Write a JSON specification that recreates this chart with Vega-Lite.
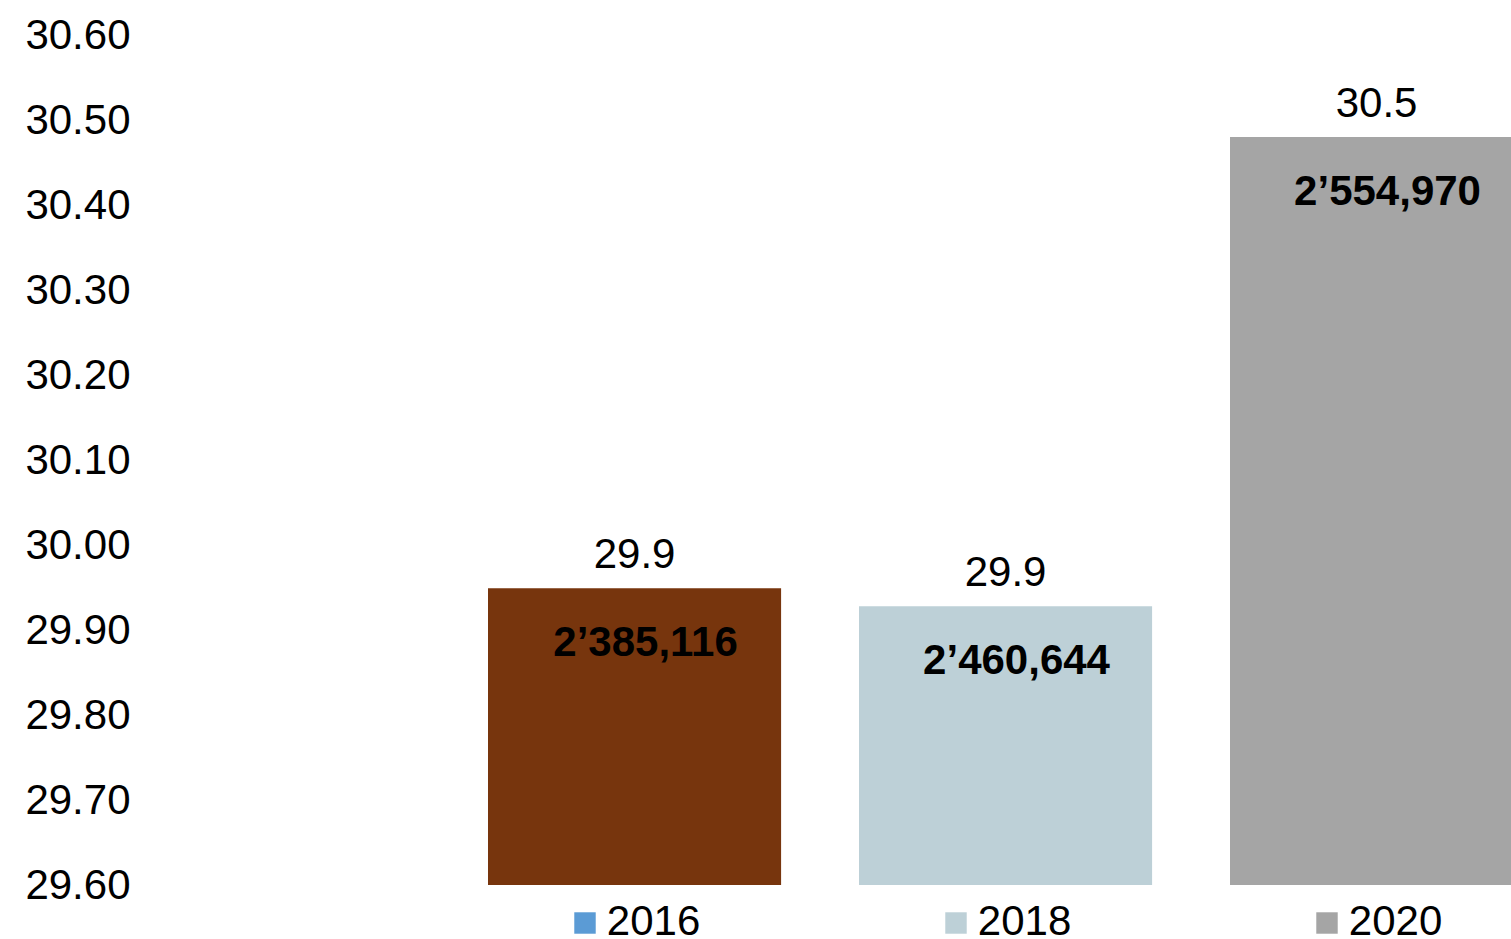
{
  "$schema": "https://vega.github.io/schema/vega-lite/v6.json",
  "width": 1361,
  "height": 850,
  "autosize": {"type": "none"},
  "padding": {"left": 150, "top": 35, "right": 0, "bottom": 54},
  "background": "white",
  "config": {
    "view": {"stroke": null},
    "font": "Liberation Sans",
    "text": {"font": "Liberation Sans"}
  },
  "data": {
    "values": [
      {"year": "2016", "value": 29.949, "label": "2’385,116"},
      {"year": "2018", "value": 29.928, "label": "2’460,644"},
      {"year": "2020", "value": 30.48, "label": "2’554,970"}
    ]
  },
  "encoding": {
    "x": {
      "field": "year",
      "type": "nominal",
      "scale": {"domain": ["2016", "2018", "2020"], "range": [338, 1373.09], "paddingInner": 0.21, "paddingOuter": 0},
      "axis": {
        "title": null,
        "orient": "bottom",
        "domain": false,
        "ticks": false,
        "tickSize": 0,
        "grid": false,
        "labelAngle": 0,
        "labelFontSize": 42,
        "labelFont": "Liberation Sans",
        "labelColor": "#000000",
        "labelPadding": 16,
        "labelOffset": 19
      }
    },
    "y": {
      "field": "value",
      "type": "quantitative",
      "scale": {"domain": [29.6, 30.6], "nice": false, "zero": false},
      "axis": {
        "values": [29.6, 29.7, 29.8, 29.9, 30.0, 30.1, 30.2, 30.3, 30.4, 30.5, 30.6],
        "format": ".2f",
        "title": null,
        "domain": false,
        "ticks": false,
        "tickSize": 0,
        "grid": false,
        "labelFontSize": 42,
        "labelColor": "#000000",
        "labelPadding": 20,
        "labelFont": "Liberation Sans"
      }
    }
  },
  "layer": [
    {
      "mark": {"type": "bar", "clip": true},
      "encoding": {
        "y2": {"datum": 29.6},
        "fill": {
          "field": "year",
          "type": "nominal",
          "scale": {"domain": ["2016", "2018", "2020"], "range": ["#77350D", "#BDD0D7", "#A5A5A5"]},
          "legend": null
        }
      }
    },
    {
      "mark": {"type": "point", "shape": "square", "filled": true, "size": 460, "opacity": 1, "strokeWidth": 0},
      "encoding": {
        "y": {"datum": 29.6},
        "xOffset": {"value": 97},
        "yOffset": {"value": 38},
        "color": {
          "field": "year",
          "type": "nominal",
          "scale": {"domain": ["2016", "2018", "2020"], "range": ["#5B9BD5", "#BDD0D7", "#A5A5A5"]},
          "legend": null
        }
      }
    },
    {
      "mark": {"type": "text", "dy": -33, "fontSize": 42, "color": "#000000", "baseline": "middle"},
      "encoding": {
        "text": {"field": "value", "type": "quantitative", "format": ".1f"}
      }
    },
    {
      "mark": {"type": "text", "dy": 55, "dx": 11, "fontSize": 42, "fontWeight": "bold", "color": "#000000", "baseline": "middle"},
      "encoding": {
        "text": {"field": "label", "type": "nominal"}
      }
    }
  ]
}
